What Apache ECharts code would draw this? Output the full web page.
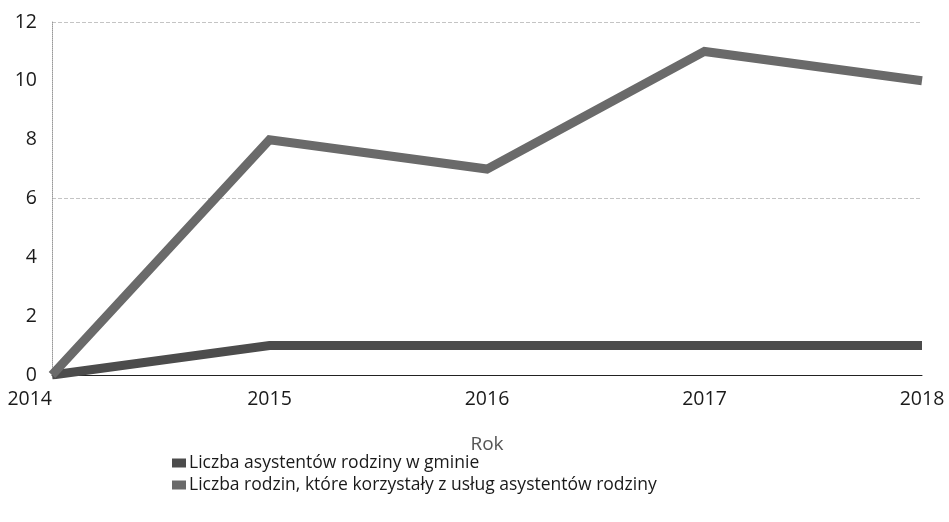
<!DOCTYPE html>
<html>
<head>
<meta charset="utf-8">
<script src="https://cdn.jsdelivr.net/npm/echarts@6/dist/echarts.min.js"></script>
<style>
  html, body { margin: 0; padding: 0; background: #fff; }
  #chart { width: 949px; height: 522px; }
</style>
</head>
<body>
<div id="chart"></div>
<script>
const years = ['2014', '2015', '2016', '2017', '2018'];
const assistants = [0, 1, 1, 1, 1];
const families = [0, 8, 7, 11, 10];
const seriesNames = [
    'Liczba asystentów rodziny w gminie',
    'Liczba rodzin, które korzystały z usług asystentów rodziny'
];

const chart = echarts.init(document.getElementById('chart'));

const option = {
    animation: false,
    textStyle: { fontFamily: 'Open Sans' },
    grid: { left: 52, right: 27, top: 22, bottom: 147 },
    legend: {
        orient: 'vertical',
        left: 167,
        top: 449,
        itemWidth: 14,
        itemHeight: 9,
        itemGap: 4,
        icon: 'rect',
        lineStyle: { width: 0 },
        textStyle: { fontSize: 17.5, color: '#1a1a1a', padding: [0, 0, 0, -2] },
        data: seriesNames
    },
    xAxis: {
        type: 'category',
        data: years,
        boundaryGap: false,
        name: 'Rok',
        nameLocation: 'middle',
        nameGap: 60,
        nameTextStyle: { fontSize: 19, color: '#555' },
        axisLine: { lineStyle: { color: '#222', width: 1 } },
        axisTick: { show: false },
        axisLabel: { fontSize: 19.5, color: '#1a1a1a', margin: 14, alignMinLabel: 'right' }
    },
    yAxis: {
        type: 'value',
        min: 0,
        max: 12,
        interval: 2,
        axisLine: { show: true, lineStyle: { color: '#999', type: 'dotted' } },
        axisTick: { show: false },
        axisLabel: { fontSize: 19.5, color: '#1a1a1a', margin: 15 },
        splitLine: {
            lineStyle: {
                color: ['transparent', 'transparent', 'transparent', '#c4c4c4', 'transparent', 'transparent', '#c4c4c4'],
                type: 'dashed'
            }
        }
    },
    series: [
        {
            name: seriesNames[0],
            type: 'line',
            data: assistants,
            symbol: 'none',
            itemStyle: { color: '#4c4c4c' },
            lineStyle: { color: '#4c4c4c', width: 9, cap: 'butt', join: 'miter' }
        },
        {
            name: seriesNames[1],
            type: 'line',
            data: families,
            symbol: 'none',
            itemStyle: { color: '#6a6a6a' },
            lineStyle: { color: '#6a6a6a', width: 9, cap: 'butt', join: 'miter' }
        }
    ]
};

chart.setOption(option);
</script>
</body>
</html>
